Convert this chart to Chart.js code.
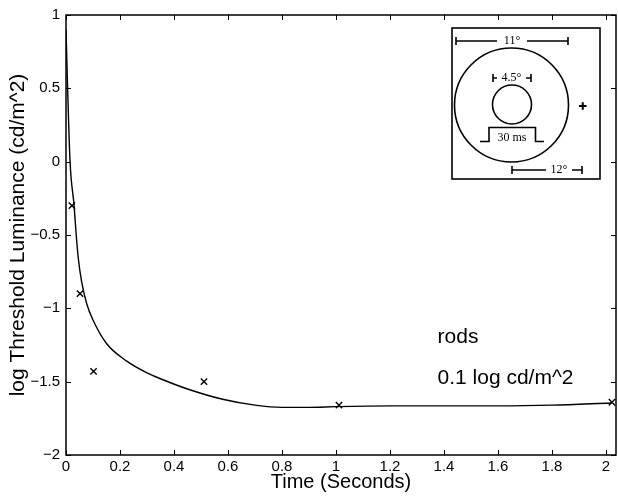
<!DOCTYPE html>
<html>
<head>
<meta charset="utf-8">
<script src="https://cdn.jsdelivr.net/npm/chart.js@4.4.0/dist/chart.umd.min.js"></script>
<style>
  html, body { margin: 0; padding: 0; background: #fff; }
  #wrap { width: 618px; height: 496px; }
</style>
</head>
<body>
<div id="wrap"><canvas id="chart" width="618" height="496"></canvas></div>
<script>
const xTicks = [0, 0.2, 0.4, 0.6, 0.8, 1, 1.2, 1.4, 1.6, 1.8, 2];
const yTicks = [-2, -1.5, -1, -0.5, 0, 0.5, 1];

// measured thresholds (x markers)
const measuredTime = [0.022, 0.052, 0.102, 0.511, 1.011, 2.022];
const measuredThreshold = [-0.30, -0.90, -1.43, -1.50, -1.66, -1.64];

// fitted curve
const fitTime = [0, 0.006, 0.015, 0.03, 0.037, 0.045, 0.058, 0.077, 0.1, 0.15, 0.225, 0.3, 0.35, 0.45, 0.58, 0.7, 0.8, 0.9, 1.0, 1.2, 1.4, 1.6, 1.8, 2.02];
const fitThreshold = [0.9, 0.5, 0.0, -0.3, -0.48, -0.65, -0.82, -0.97, -1.08, -1.24, -1.36, -1.44, -1.48, -1.55, -1.62, -1.66, -1.675, -1.675, -1.67, -1.665, -1.665, -1.665, -1.66, -1.645];

const noteLines = ['rods', '0.1 log cd/m^2'];
const noteX = 1.376;
const noteY = [-1.195, -1.478];

const sans = "'Liberation Sans', Arial, Helvetica, sans-serif";
const serif = "'Liberation Serif', 'Times New Roman', serif";

const fmt = v => String(v).replace('-', '\u2212');

// box around plot with inward ticks, like MATLAB "box on"
// x tick labels drawn here so the last one does not shrink the plot area
const framePlugin = {
  id: 'frame',
  afterDatasetsDraw(chart) {
    const { ctx, chartArea: a, scales } = chart;
    const len = 5;
    ctx.save();
    ctx.strokeStyle = '#000';
    ctx.lineWidth = 1.5;
    ctx.strokeRect(a.left, a.top, a.right - a.left, a.bottom - a.top);
    ctx.lineWidth = 1;
    ctx.beginPath();
    xTicks.forEach(v => {
      const x = Math.round(scales.x.getPixelForValue(v)) + 0.5;
      ctx.moveTo(x, a.bottom); ctx.lineTo(x, a.bottom - len);
      ctx.moveTo(x, a.top); ctx.lineTo(x, a.top + len);
    });
    yTicks.forEach(v => {
      const y = Math.round(scales.y.getPixelForValue(v)) + 0.5;
      ctx.moveTo(a.left, y); ctx.lineTo(a.left + len, y);
      ctx.moveTo(a.right, y); ctx.lineTo(a.right - len, y);
    });
    ctx.stroke();

    ctx.fillStyle = '#000';
    ctx.font = '15px ' + sans;
    ctx.textAlign = 'center';
    ctx.textBaseline = 'top';
    xTicks.forEach(v => {
      ctx.fillText(fmt(v), scales.x.getPixelForValue(v), a.bottom + 4);
    });
    ctx.restore();
  }
};

const notesPlugin = {
  id: 'notes',
  afterDatasetsDraw(chart) {
    const { ctx, scales } = chart;
    ctx.save();
    ctx.fillStyle = '#000';
    ctx.font = '21px ' + sans;
    ctx.textAlign = 'left';
    ctx.textBaseline = 'middle';
    noteLines.forEach((t, i) => {
      ctx.fillText(t, scales.x.getPixelForValue(noteX), scales.y.getPixelForValue(noteY[i]));
    });
    ctx.restore();
  }
};

// stimulus sketch in the top right corner
const insetPlugin = {
  id: 'inset',
  afterDraw(chart) {
    const { ctx } = chart;
    ctx.save();
    ctx.strokeStyle = '#000';
    ctx.fillStyle = '#000';
    ctx.lineWidth = 1.6;
    ctx.strokeRect(452, 28, 148, 151);

    ctx.beginPath();
    ctx.arc(511.5, 105, 57, 0, Math.PI * 2);
    ctx.stroke();
    ctx.beginPath();
    ctx.arc(512, 104.5, 19.5, 0, Math.PI * 2);
    ctx.stroke();

    const bar = (x1, x2, y, gapL, gapR) => {
      ctx.beginPath();
      ctx.moveTo(x1, y); ctx.lineTo(gapL, y);
      ctx.moveTo(gapR, y); ctx.lineTo(x2, y);
      ctx.moveTo(x1, y - 4); ctx.lineTo(x1, y + 4);
      ctx.moveTo(x2, y - 4); ctx.lineTo(x2, y + 4);
      ctx.stroke();
    };
    bar(456, 568, 41, 497, 527);
    bar(493, 531, 78, 497, 526);
    bar(512, 582, 170, 546, 572);

    ctx.beginPath();
    ctx.moveTo(480, 141.5); ctx.lineTo(489, 141.5); ctx.lineTo(489, 127.5);
    ctx.lineTo(535.5, 127.5); ctx.lineTo(535.5, 141.5); ctx.lineTo(544, 141.5);
    ctx.stroke();

    ctx.lineWidth = 2;
    ctx.beginPath();
    ctx.moveTo(579, 106); ctx.lineTo(586.5, 106);
    ctx.moveTo(582.75, 102.25); ctx.lineTo(582.75, 109.75);
    ctx.stroke();

    ctx.font = '12px ' + serif;
    ctx.textAlign = 'center';
    ctx.textBaseline = 'middle';
    ctx.fillText('11\u00b0', 512, 41);
    ctx.fillText('4.5\u00b0', 511.5, 78);
    ctx.fillText('30 ms', 512, 138);
    ctx.fillText('12\u00b0', 559, 170);
    ctx.restore();
  }
};

new Chart(document.getElementById('chart'), {
  type: 'scatter',
  data: {
    datasets: [
      {
        type: 'line',
        label: 'fit',
        data: fitTime.map((t, i) => ({ x: t, y: fitThreshold[i] })),
        borderColor: '#000',
        borderWidth: 1.4,
        pointRadius: 0,
        fill: false,
        cubicInterpolationMode: 'monotone'
      },
      {
        label: 'measured',
        data: measuredTime.map((t, i) => ({ x: t, y: measuredThreshold[i] })),
        pointStyle: 'crossRot',
        pointRadius: 4.5,
        borderColor: '#000',
        borderWidth: 1.4,
        showLine: false
      }
    ]
  },
  options: {
    responsive: false,
    animation: false,
    devicePixelRatio: 1,
    layout: { autoPadding: false, padding: { top: 14, right: 2, left: 0, bottom: 0 } },
    plugins: {
      legend: { display: false },
      tooltip: { enabled: false }
    },
    scales: {
      x: {
        type: 'linear',
        min: 0,
        max: 2.037,
        afterBuildTicks: s => { s.ticks = xTicks.map(v => ({ value: v })); },
        afterFit: s => { s.height = 41; },
        grid: { display: false, drawTicks: false },
        border: { display: false },
        ticks: { display: false },
        title: { display: true, text: 'Time (Seconds)', color: '#000', font: { family: sans, size: 20 }, padding: { top: 0, bottom: 2 } }
      },
      y: {
        min: -2,
        max: 1,
        afterBuildTicks: s => { s.ticks = yTicks.map(v => ({ value: v })); },
        afterFit: s => { s.width = 66; },
        grid: { display: false, drawTicks: false },
        border: { display: false },
        ticks: { color: '#000', padding: 6, autoSkip: false, font: { family: sans, size: 15 }, callback: fmt },
        title: { display: true, text: 'log Threshold Luminance (cd/m^2)', color: '#000', font: { family: sans, size: 21 }, padding: { top: 6, bottom: 0 } }
      }
    }
  },
  plugins: [framePlugin, notesPlugin, insetPlugin]
});
</script>
</body>
</html>
